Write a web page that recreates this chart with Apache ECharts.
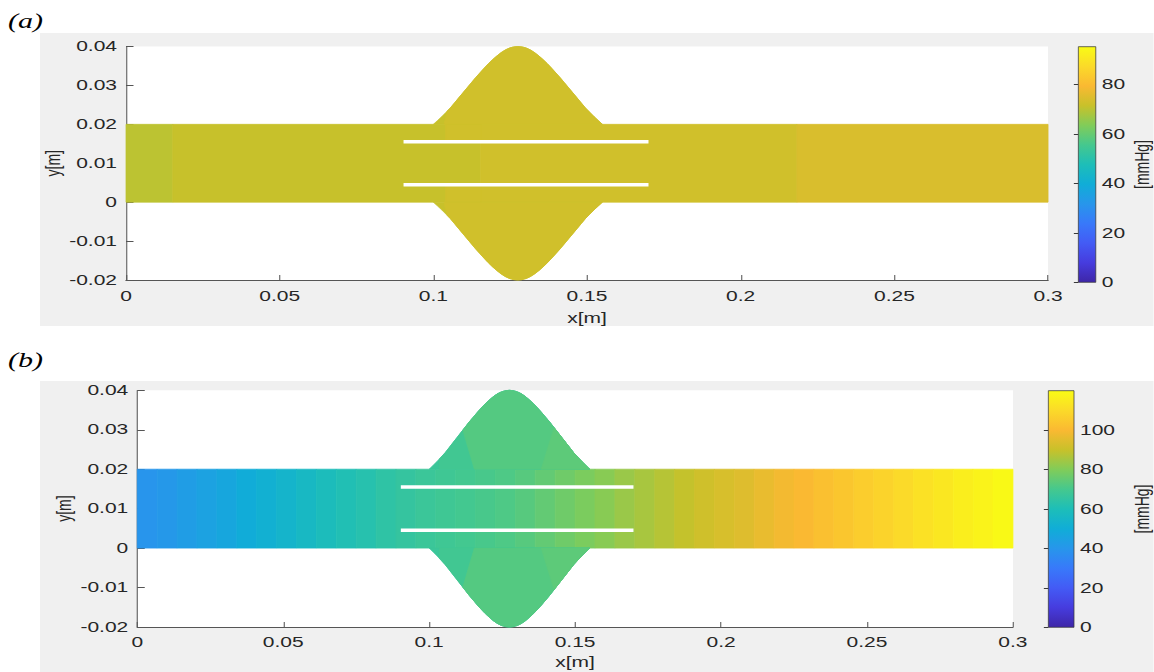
<!DOCTYPE html>
<html><head><meta charset="utf-8">
<script src="https://cdn.jsdelivr.net/npm/echarts@6/dist/echarts.min.js"></script>
<style>
html,body{margin:0;padding:0;background:#fff;overflow:hidden;}
#wrap{width:1154px;height:672px;overflow:hidden;position:relative;}
#chart{width:769.333px;height:672px;transform:scaleX(1.5);transform-origin:0 0;}
</style></head><body><div id="wrap"><div id="chart"></div></div>
<script>
// ---------------- data ----------------
const xTicks = [0, 0.05, 0.1, 0.15, 0.2, 0.25, 0.3];
const yTicks = [-0.02, -0.01, 0, 0.01, 0.02, 0.03, 0.04];
const cbTicksA = [0, 20, 40, 60, 80];
const cbTicksB = [0, 20, 40, 60, 80, 100];
const cbRangeA = [0, 95.4];
const cbRangeB = [0, 120];
const channelY = [0, 0.02];
const channelX = [0, 0.3];
// bulge outline: height above channel top (mirrored below the channel)
const bulgeX = [0.1, 0.10138, 0.10275, 0.10413, 0.1055, 0.10688, 0.10825, 0.10963, 0.111, 0.11238, 0.11375,
  0.11513, 0.1165, 0.11788, 0.11925, 0.12063, 0.122, 0.12338, 0.12475, 0.12613, 0.1275,
  0.12888, 0.13025, 0.13163, 0.133, 0.13438, 0.13575, 0.13713, 0.1385, 0.13988, 0.14125,
  0.14263, 0.144, 0.14538, 0.14675, 0.14813, 0.1495, 0.15088, 0.15225, 0.15363, 0.155];
const bulgeH = [0, 0.001, 0.002, 0.0031, 0.0042, 0.0055, 0.0068, 0.0081, 0.0094, 0.0107, 0.012,
  0.0132, 0.0144, 0.01554, 0.0166, 0.01754, 0.0184, 0.0191, 0.0196, 0.0199, 0.02,
  0.0199, 0.0196, 0.0191, 0.0184, 0.01754, 0.0166, 0.01554, 0.0144, 0.0132, 0.012,
  0.0107, 0.0094, 0.0081, 0.0068, 0.0055, 0.0042, 0.0031, 0.002, 0.001, 0];
const wallY = [0.0155, 0.0045];
const wallX = [0.0903, 0.17];

// panel (a) pressure field [mmHg]
const bandStartA = [0, 0.0152, 0.1154, 0.2183];
const bandEndA   = [0.0152, 0.1154, 0.2183, 0.3];
const bandValA   = [70.2, 71.4, 72.8, 74.3];
const patchX0A = [0.104, 0.104];
const patchX1A = [0.1154, 0.1154];
const patchY0A = [0.0155, 0];
const patchY1A = [0.02, 0.0045];
const patchValA = [72.8, 72.8];
// lobe zones: boundary x at the channel wall, boundary lean (dx per dy), value
const lobeBaseA  = [0.1, 0.1035];
const lobeLeanA  = [0, 0.3];
const lobeValA   = [71.4, 72.8];

// panel (b) pressure field [mmHg]
const bandStartB = [0, 0.00682, 0.01364, 0.02045, 0.02727, 0.03409, 0.04091, 0.04773, 0.05455, 0.06136,
  0.06818, 0.075, 0.08182, 0.08864, 0.09545, 0.10227, 0.10909, 0.11591, 0.12273, 0.12955,
  0.13636, 0.14318, 0.15, 0.15682, 0.16364, 0.17045, 0.17727, 0.18409, 0.19091, 0.19773,
  0.20455, 0.21136, 0.21818, 0.225, 0.23182, 0.23864, 0.24545, 0.25227, 0.25909, 0.26591,
  0.27273, 0.27955, 0.28636, 0.29318];
const bandValB = [39.5, 41, 43, 45, 47, 49.5, 51.5, 54, 56.5, 59,
  61, 62.5, 64.5, 66, 67.5, 68.5, 69.5, 70.5, 71.5, 73,
  75, 77, 79, 81, 83.5, 85.5, 87.5, 89.5, 91.5, 93,
  94.5, 96.5, 98.5, 100, 102, 104, 106, 108, 110, 112,
  114, 116, 117.5, 119.5];
const lobeBaseB = [0.1, 0.1035, 0.1155, 0.1384];
const lobeLeanB = [0, 0, -0.4, 0.42];
const lobeValB  = [67.5, 69, 72.5, 74];

// colormap (parula)
const parula = ['#3e26a8', '#463cde', '#435bf5', '#3879fa', '#2796eb', '#10add7', '#1dbeb8',
  '#45c88e', '#81cc59', '#c8c12a', '#fab932', '#fbda29', '#f9fb15'];

// ---------------- helpers ----------------
const FONT = "'Liberation Sans', Arial, Helvetica, sans-serif";
const TXT = '#262626';
const AX = '#555555';
const fmt = v => String(+(+v).toFixed(4));

function renderRect(params, api) {
  const p0 = api.coord([api.value(1), api.value(3)]);
  const p1 = api.coord([api.value(2), api.value(4)]);
  const c = api.visual('color');
  return {type: 'rect', shape: {x: p0[0], y: p1[1], width: p1[0] - p0[0], height: p0[1] - p1[1]},
    style: {fill: c, stroke: c, lineWidth: 0.6}};
}
// zone of the bulge lying right of the boundary line x = xb + k*h
function zonePoints(xb, k) {
  const pts = [];
  let prev = null;
  for (let i = bulgeX.length - 1; i >= 0; i--) {
    const x = bulgeX[i], h = bulgeH[i];
    const f = x - (xb + k * h);
    if (f >= 0) { pts.push([x, h]); prev = [x, h, f]; }
    else {
      if (prev) {
        const t = prev[2] / (prev[2] - f);
        pts.push([prev[0] + t * (x - prev[0]), prev[1] + t * (h - prev[1])]);
      }
      break;
    }
  }
  pts.push([xb, 0]);
  return pts;
}
function renderLobe(params, api) {
  const xb = api.value(1), k = api.value(2);
  const c = api.visual('color');
  const pts = zonePoints(xb, k);
  const top = pts.map(p => api.coord([p[0], channelY[1] + p[1]]));
  const bot = pts.map(p => api.coord([p[0], channelY[0] - p[1]]));
  const st = {fill: c, stroke: c, lineWidth: 0.6};
  return {type: 'group', children: [
    {type: 'polygon', shape: {points: top}, style: st},
    {type: 'polygon', shape: {points: bot}, style: st}]};
}
function renderBar(params, api) {
  const lo = api.value(0), hi = api.value(1);
  const p0 = api.coord([0, lo]);
  const p1 = api.coord([1, hi]);
  const stops = parula.map((c, i) => ({offset: i / (parula.length - 1), color: c}));
  return {type: 'rect', shape: {x: p0[0], y: p1[1], width: p1[0] - p0[0], height: p0[1] - p1[1]},
    style: {fill: new echarts.graphic.LinearGradient(0, 1, 0, 0, stops), stroke: '#3a3a3a', lineWidth: 0.6}};
}

const bandsA = bandStartA.map((s, i) => [bandValA[i], s, bandEndA[i], channelY[0], channelY[1]])
  .concat(patchValA.map((v, i) => [v, patchX0A[i], patchX1A[i], patchY0A[i], patchY1A[i]]));
const lobesA = lobeValA.map((v, i) => [v, lobeBaseA[i], lobeLeanA[i]]);
const bandsB = bandStartB.map((s, i) => [bandValB[i], s,
  i < bandStartB.length - 1 ? bandStartB[i + 1] : channelX[1], channelY[0], channelY[1]]);
const lobesB = lobeValB.map((v, i) => [v, lobeBaseB[i], lobeLeanB[i]]);

function xAx(grid, gap, margin) {
  return {type: 'value', gridIndex: grid, min: xTicks[0], max: xTicks[xTicks.length - 1], interval: 0.05,
    name: 'x[m]', nameLocation: 'middle', nameGap: gap, nameMoveOverlap: false,
    nameTextStyle: {fontSize: 14, color: TXT, fontFamily: FONT},
    axisLine: {show: true, onZero: false, lineStyle: {color: AX, width: 1}},
    axisTick: {show: true, inside: true, length: 5, lineStyle: {color: AX, width: 0.7}},
    axisLabel: {margin: margin, fontSize: 14, color: TXT, fontFamily: FONT, formatter: fmt},
    splitLine: {show: false}};
}
function yAx(grid, gap) {
  return {type: 'value', gridIndex: grid, min: yTicks[0], max: yTicks[yTicks.length - 1], interval: 0.01,
    name: 'y[m]', nameLocation: 'middle', nameGap: gap, nameMoveOverlap: false,
    nameTextStyle: {fontSize: 14, color: TXT, fontFamily: FONT},
    axisLine: {show: true, onZero: false, lineStyle: {color: AX, width: 0.7}},
    axisTick: {show: true, inside: true, length: 5, lineStyle: {color: AX, width: 1}},
    axisLabel: {margin: 6, fontSize: 14, color: TXT, fontFamily: FONT, formatter: fmt},
    splitLine: {show: false}};
}
function cbX(grid) {
  return {type: 'value', gridIndex: grid, min: 0, max: 1, show: false};
}
function cbY(grid, range, ticks, gap) {
  return {type: 'value', gridIndex: grid, position: 'right', min: range[0], max: range[1], interval: 20,
    name: '[mmHg]', nameLocation: 'middle', nameRotate: 90, nameGap: gap,
    nameTextStyle: {fontSize: 14, color: TXT, fontFamily: FONT},
    axisLine: {show: false},
    axisTick: {show: true, inside: true, length: 3, customValues: ticks, lineStyle: {color: '#3a3a3a', width: 1}},
    axisLabel: {margin: 4, fontSize: 14, color: TXT, fontFamily: FONT, customValues: ticks},
    splitLine: {show: false}};
}
function wall(xi, yi, y) {
  return {type: 'line', xAxisIndex: xi, yAxisIndex: yi, data: [[wallX[0], y], [wallX[1], y]],
    showSymbol: false, symbol: 'none', silent: true, z: 5,
    lineStyle: {color: '#ffffff', width: 3.5, cap: 'butt'}};
}

const chart = echarts.init(document.getElementById('chart'), null, {renderer: 'svg'});
chart.setOption({
  animation: false,
  backgroundColor: 'transparent',
  graphic: [
    {type: 'rect', z: -100, silent: true, shape: {x: 26.67, y: 33, width: 742.67, height: 293}, style: {fill: '#f0f0f0'}},
    {type: 'rect', z: -100, silent: true, shape: {x: 26.67, y: 381, width: 742.67, height: 291}, style: {fill: '#f0f0f0'}},
    {type: 'text', x: 5.3, y: 11, style: {text: '(a)', font: 'italic 20px "Liberation Serif"', fill: '#000', verticalAlign: 'top'}},
    {type: 'text', x: 5.3, y: 350, style: {text: '(b)', font: 'italic 20px "Liberation Serif"', fill: '#000', verticalAlign: 'top'}}
  ],
  grid: [
    {left: 84, top: 46.5, width: 614.7, height: 233.5, show: true, backgroundColor: '#fff', borderWidth: 0},
    {left: 91.5, top: 390.3, width: 583.8, height: 236.7, show: true, backgroundColor: '#fff', borderWidth: 0},
    {left: 718.9, top: 46.7, width: 14.9, height: 235.6, show: false},
    {left: 698.9, top: 390.7, width: 17.3, height: 236.6, show: false}
  ],
  xAxis: [xAx(0, 31, 9), xAx(1, 28, 8), cbX(2), cbX(3)],
  yAxis: [yAx(0, 42), yAx(1, 42), cbY(2, cbRangeA, cbTicksA, 21), cbY(3, cbRangeB, cbTicksB, 38)],
  visualMap: [
    {type: 'continuous', show: false, seriesIndex: [0, 1], dimension: 0, min: cbRangeA[0], max: cbRangeA[1], inRange: {color: parula}},
    {type: 'continuous', show: false, seriesIndex: [4, 5], dimension: 0, min: cbRangeB[0], max: cbRangeB[1], inRange: {color: parula}}
  ],
  series: [
    {type: 'custom', xAxisIndex: 0, yAxisIndex: 0, data: bandsA, renderItem: renderRect, encode: {x: [1, 2], y: [3, 4]}, z: 2, silent: true},
    {type: 'custom', xAxisIndex: 0, yAxisIndex: 0, data: lobesA, renderItem: renderLobe, encode: {x: [1]}, z: 2, silent: true},
    wall(0, 0, wallY[0]), wall(0, 0, wallY[1]),
    {type: 'custom', xAxisIndex: 1, yAxisIndex: 1, data: bandsB, renderItem: renderRect, encode: {x: [1, 2], y: [3, 4]}, z: 2, silent: true},
    {type: 'custom', xAxisIndex: 1, yAxisIndex: 1, data: lobesB, renderItem: renderLobe, encode: {x: [1]}, z: 2, silent: true},
    wall(1, 1, wallY[0]), wall(1, 1, wallY[1]),
    {type: 'custom', xAxisIndex: 2, yAxisIndex: 2, data: [cbRangeA], renderItem: renderBar, encode: {y: [0, 1]}, silent: true},
    {type: 'custom', xAxisIndex: 3, yAxisIndex: 3, data: [cbRangeB], renderItem: renderBar, encode: {y: [0, 1]}, silent: true}
  ]
});
</script></body></html>
